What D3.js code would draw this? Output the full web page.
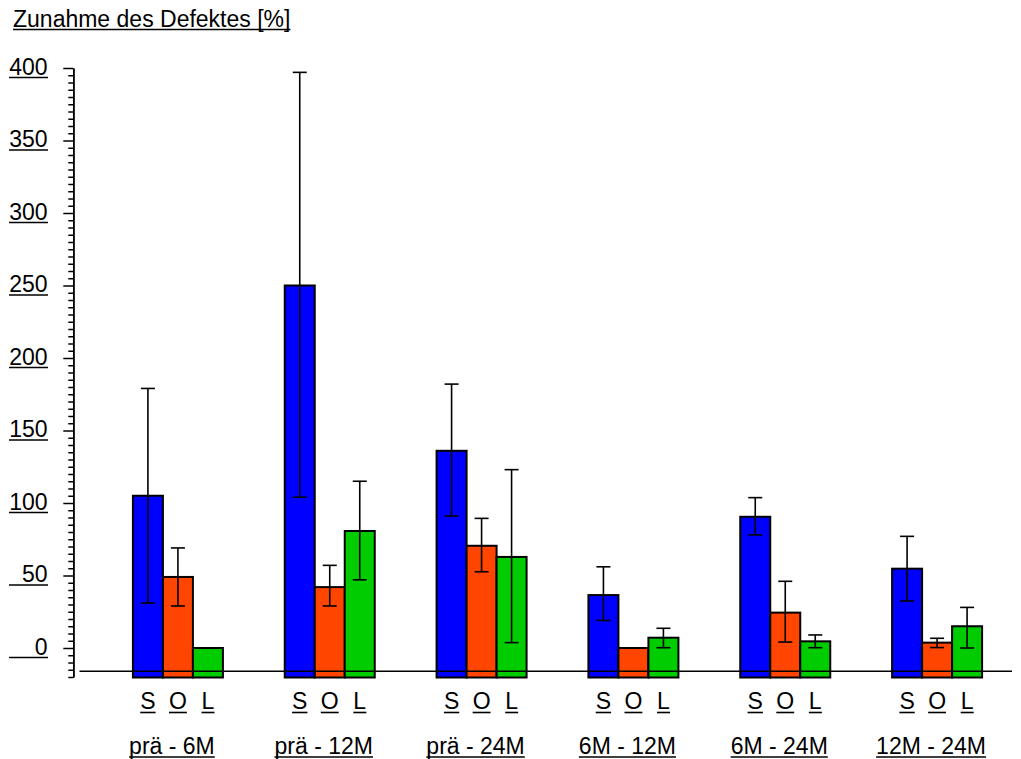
<!DOCTYPE html>
<html>
<head>
<meta charset="utf-8">
<script src="https://cdn.jsdelivr.net/npm/d3@7"></script>
<style>
  html, body { margin: 0; padding: 0; background: #fff; }
  svg { display: block; font-family: "Liberation Sans", Arial, Helvetica, sans-serif; }
</style>
</head>
<body>
<svg id="chart" width="1021" height="759"></svg>
<script>
const categories = ["prä - 6M", "prä - 12M", "prä - 24M", "6M - 12M", "6M - 24M", "12M - 24M"];
const seriesNames = ["S", "O", "L"];
const seriesColors = ["#0000ff", "#ff4500", "#00cc00"];

const valuesS = [105, 250, 136, 36.5, 90.5, 54.7];
const upperS  = [179, 397, 182, 56, 103.7, 77];
const lowerS  = [31, 104, 91, 19, 78, 32.4];

const valuesO = [49, 42, 70.5, 0, 24.4, 3.7];
const upperO  = [69, 57, 89.4, 0, 46, 6.7];
const lowerO  = [29, 29, 52.6, 0, 4.1, 0.3];

const valuesL = [0, 80.7, 62.8, 7.1, 4.6, 15];
const upperL  = [0, 115, 123, 13.6, 9, 28];
const lowerL  = [0, 47, 3.7, 0.2, 0.2, 0];

const yTickLabels = [0, 50, 100, 150, 200, 250, 300, 350, 400];
const yTitle = "Zunahme des Defektes [%]";

const seriesData = [
  { name: "S", values: valuesS, upper: upperS, lower: lowerS },
  { name: "O", values: valuesO, upper: upperO, lower: lowerO },
  { name: "L", values: valuesL, upper: upperL, lower: lowerL }
];

const svg = d3.select("#chart");
const fontSize = 23;

const y = d3.scaleLinear().domain([-20, 400]).range([677, 68]);
const x0 = d3.scaleBand().domain(categories).range([102, 1013]).padding(0);
const bw = x0.bandwidth();
const x1 = d3.scaleBand().domain(seriesNames).range([bw / 2 - 45, bw / 2 + 45]).padding(0);
const color = d3.scaleOrdinal().domain(seriesNames).range(seriesColors);

// Title
const title = svg.append("text")
  .attr("x", 13).attr("y", 26.5)
  .attr("font-size", fontSize).attr("fill", "#000")
  .text(yTitle);
const tl = title.node().getComputedTextLength();
svg.append("line").attr("x1", 13).attr("x2", 13 + tl).attr("y1", 29.5).attr("y2", 29.5)
  .attr("stroke", "#000").attr("stroke-width", 1.5);

// Y axis: minor ticks
const minorTicks = d3.range(-20, 401, 5).filter(v => v % 50 !== 0);
const axisMinor = d3.axisLeft(y).tickValues(minorTicks).tickSize(5).tickSizeOuter(0).tickFormat("");
const gMinor = svg.append("g").attr("transform", "translate(73.3,0)").call(axisMinor);
const axisMajor = d3.axisLeft(y).tickValues(yTickLabels).tickSize(10).tickSizeOuter(0).tickFormat("");
const gMajor = svg.append("g").attr("transform", "translate(73.3,0)").call(axisMajor);
[gMinor, gMajor].forEach(g => {
  g.selectAll("path.domain").attr("stroke", "#000").attr("stroke-width", 1.6);
  g.selectAll(".tick line").attr("stroke", "#000").attr("stroke-width", 1.5);
});

// Y tick labels, underlined with fixed width
const yLab = svg.append("g");
yTickLabels.forEach(v => {
  yLab.append("text")
    .attr("x", 47.5).attr("y", y(v) + 6.5)
    .attr("text-anchor", "end")
    .attr("font-size", fontSize).attr("fill", "#000")
    .text(v);
  yLab.append("line")
    .attr("x1", 9).attr("x2", 48)
    .attr("y1", y(v) + 9.5).attr("y2", y(v) + 9.5)
    .attr("stroke", "#000").attr("stroke-width", 1.6);
});

// Bars
const groups = svg.append("g").selectAll("g.grp")
  .data(categories)
  .join("g")
  .attr("class", "grp")
  .attr("transform", d => `translate(${x0(d)},0)`);

groups.each(function(cat, ci) {
  const g = d3.select(this);
  seriesData.forEach(s => {
    const v = s.values[ci];
    g.append("rect")
      .attr("x", x1(s.name))
      .attr("width", x1.bandwidth())
      .attr("y", y(v))
      .attr("height", y(-20) - y(v) + 0.5)
      .attr("fill", color(s.name))
      .attr("stroke", "#000")
      .attr("stroke-width", 2);
  });
});

// Error bars
groups.each(function(cat, ci) {
  const g = d3.select(this);
  seriesData.forEach(s => {
    const up = s.upper[ci], lo = s.lower[ci];
    if (up - lo <= 0) return;
    const cx = x1(s.name) + x1.bandwidth() / 2;
    g.append("line").attr("x1", cx).attr("x2", cx).attr("y1", y(up)).attr("y2", y(lo))
      .attr("stroke", "#000").attr("stroke-width", 1.6);
    [up, lo].forEach(val => {
      g.append("line").attr("x1", cx - 7).attr("x2", cx + 7).attr("y1", y(val)).attr("y2", y(val))
        .attr("stroke", "#000").attr("stroke-width", 1.6);
    });
  });
});

// Baseline
svg.append("line")
  .attr("x1", 79.5).attr("x2", 1012)
  .attr("y1", y(-16)).attr("y2", y(-16))
  .attr("stroke", "#000").attr("stroke-width", 1.5);

// Series labels and category labels
function underlinedText(g, x, yy, txt, anchor) {
  const t = g.append("text").attr("x", x).attr("y", yy)
    .attr("text-anchor", anchor).attr("font-size", fontSize).attr("fill", "#000").text(txt);
  const bb = t.node().getBBox();
  g.append("line").attr("x1", bb.x).attr("x2", bb.x + bb.width)
    .attr("y1", yy + 3.5).attr("y2", yy + 3.5)
    .attr("stroke", "#000").attr("stroke-width", 1.6);
}

groups.each(function(cat) {
  const g = d3.select(this);
  seriesNames.forEach(n => {
    underlinedText(g, x1(n) + x1.bandwidth() / 2, 709, n, "middle");
  });
  underlinedText(g, bw / 2 - 6, 753.5, cat, "middle");
});
</script>
</body>
</html>
